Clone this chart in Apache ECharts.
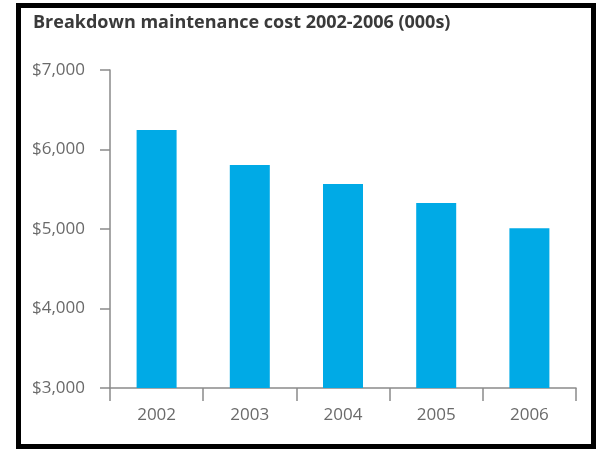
<!DOCTYPE html>
<html>
<head>
<meta charset="utf-8">
<script src="https://cdn.jsdelivr.net/npm/echarts@6/dist/echarts.min.js"></script>
<style>
html,body{margin:0;padding:0;background:#fff;}
#chart{width:596px;height:449px;}
</style>
</head>
<body>
<div id="chart"></div>
<script>
const titleText = 'Breakdown maintenance cost 2002-2006 (000s)';
const categories = ['2002', '2003', '2004', '2005', '2006'];
const costs = [6245, 5805, 5567, 5327, 5010];
const yMin = 3000, yMax = 7000, yStep = 1000;

const chart = echarts.init(document.getElementById('chart'));
const fontFam = '"Open Sans", sans-serif';
chart.setOption({
  animation: false,
  backgroundColor: '#fff',
  title: {
    text: titleText,
    left: 28, top: 9,
    textStyle: {fontFamily: fontFam, fontWeight: 'bold', fontSize: 18, color: '#3a3a3a'}
  },
  graphic: [{
    type: 'rect', silent: true,
    shape: {x: 18.5, y: 5.5, width: 575, height: 441},
    style: {fill: 'none', stroke: '#000', lineWidth: 5}
  }],
  grid: {left: 110, right: 20, top: 70, bottom: 61},
  xAxis: {
    type: 'category',
    data: categories,
    axisLine: {lineStyle: {color: '#8a8a8a', width: 1.5}},
    axisTick: {show: true, length: 13, lineStyle: {color: '#8a8a8a', width: 1.5}},
    axisLabel: {color: '#6a6a6a', fontFamily: fontFam, fontSize: 17, margin: 19}
  },
  yAxis: {
    type: 'value',
    min: yMin, max: yMax, interval: yStep,
    splitLine: {show: false},
    axisLine: {show: true, lineStyle: {color: '#8a8a8a', width: 1.5}},
    axisTick: {show: true, length: 10, lineStyle: {color: '#8a8a8a', width: 1.5}},
    axisLabel: {
      color: '#6a6a6a', fontFamily: fontFam, fontSize: 17, margin: 25,
      formatter: v => '$' + v.toLocaleString('en-US')
    }
  },
  series: [{
    type: 'bar',
    data: costs,
    barWidth: 40,
    itemStyle: {color: '#00aae6'}
  }]
});
</script>
</body>
</html>
